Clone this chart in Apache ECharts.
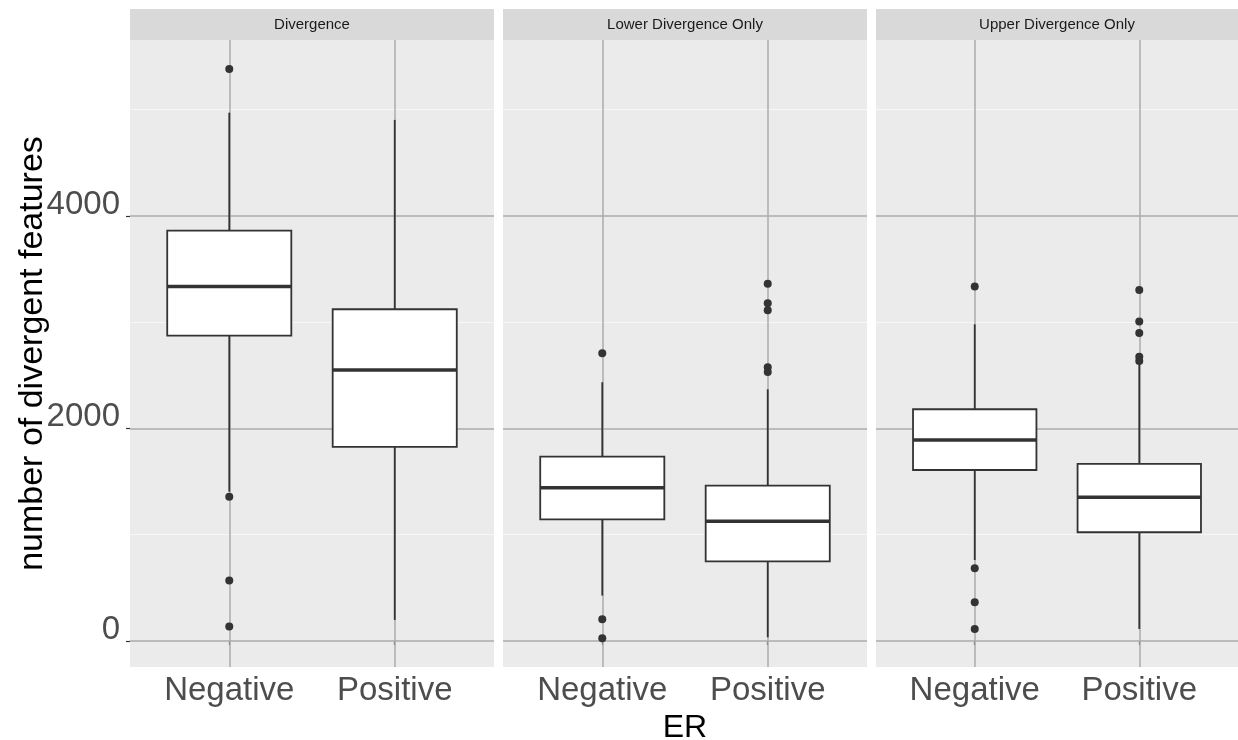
<!DOCTYPE html>
<html>
<head>
<meta charset="utf-8">
<title>number of divergent features by ER</title>
<script src="https://cdn.jsdelivr.net/npm/echarts@6/dist/echarts.min.js"></script>
<style>
  html, body { margin: 0; padding: 0; background: #fff; }
  #main { width: 1238px; height: 740px; }
</style>
</head>
<body>
<div id="main"></div>
<script>
// facet names and categories
var panels = ['Divergence', 'Lower Divergence Only', 'Upper Divergence Only'];
var erGroups = ['Negative', 'Positive'];

// box stats per ER group: [lower whisker, Q1, median, Q3, upper whisker]
var boxDivergence = [[1405, 2874, 3335, 3862, 4972], [198, 1826, 2551, 3122, 4904]];
var boxLower      = [[427, 1145, 1443, 1735, 2435], [35, 750, 1126, 1462, 2369]];
var boxUpper      = [[762, 1609, 1892, 2181, 2980], [113, 1023, 1352, 1666, 2600]];

// outliers per ER group
var outDivergence = [[5384, 1358, 568, 135], []];
var outLower      = [[2708, 204, 25], [3363, 3178, 3112, 2576, 2532]];
var outUpper      = [[3335, 684, 364, 113], [3304, 3006, 2899, 2676, 2635]];

// y axis breaks
var yMajor = [0, 2000, 4000];
var yMinor = [1000, 3000, 5000];

var boxes = [boxDivergence, boxLower, boxUpper];
var outs = [outDivergence, outLower, outUpper];

var panelLeft = [130, 503, 876];
var panelWidth = [364, 364, 362];
var panelTop = 40, panelHeight = 627;

var grids = [], xAxes = [], yAxes = [], series = [], graphics = [];

//箱线图绘制
function renderBox(params, api) {
  var x = api.value(0);
  var half = 0.375;
  var pLow = api.coord([x, api.value(1)]);
  var pQ1L = api.coord([x - half, api.value(2)]);
  var pMedL = api.coord([x - half, api.value(3)]);
  var pMedR = api.coord([x + half, api.value(3)]);
  var pQ3R = api.coord([x + half, api.value(4)]);
  var pHigh = api.coord([x, api.value(5)]);
  var pQ1 = api.coord([x, api.value(2)]);
  var pQ3 = api.coord([x, api.value(4)]);
  var stroke = '#333333';
  return {
    type: 'group',
    children: [
      { type: 'line', shape: { x1: pLow[0], y1: pLow[1], x2: pQ1[0], y2: pQ1[1] },
        style: { stroke: stroke, lineWidth: 1.8 } },
      { type: 'line', shape: { x1: pQ3[0], y1: pQ3[1], x2: pHigh[0], y2: pHigh[1] },
        style: { stroke: stroke, lineWidth: 1.8 } },
      { type: 'rect', shape: { x: pQ1L[0], y: pQ3R[1], width: pQ3R[0] - pQ1L[0], height: pQ1L[1] - pQ3R[1] },
        style: { fill: '#ffffff', stroke: stroke, lineWidth: 1.8 } },
      { type: 'line', shape: { x1: pMedL[0], y1: pMedL[1], x2: pMedR[0], y2: pMedR[1] },
        style: { stroke: stroke, lineWidth: 3.5 } }
    ]
  };
}

for (var i = 0; i < panels.length; i++) {
  grids.push({
    left: panelLeft[i], top: panelTop, width: panelWidth[i], height: panelHeight,
    show: true, backgroundColor: '#EBEBEB', borderWidth: 0,
    containLabel: false, outerBoundsMode: 'none'
  });
  xAxes.push({
    gridIndex: i, type: 'value', min: 0.4, max: 2.6,
    name: i === 1 ? 'ER' : '',
    nameLocation: 'middle', nameGap: 45, nameMoveOverlap: false,
    nameTextStyle: { fontSize: 32, color: '#000', fontFamily: 'Liberation Sans' },
    axisLine: { show: false },
    splitLine: { show: false },
    axisTick: { show: true, customValues: [1, 2], length: 4, lineStyle: { color: '#333', width: 1.2 } },
    axisLabel: {
      customValues: [1, 2], margin: 7, fontSize: 33, lineHeight: 33, color: '#4D4D4D',
      fontFamily: 'Liberation Sans',
      formatter: function (v) { return erGroups[Math.round(v) - 1]; }
    }
  });
  yAxes.push({
    gridIndex: i, type: 'value', min: -245, max: 5656,
    show: i === 0,
    name: i === 0 ? 'number of divergent features' : '',
    nameLocation: 'middle', nameRotate: 90, nameGap: 80, nameMoveOverlap: false,
    nameTextStyle: { fontSize: 34, color: '#000', fontFamily: 'Liberation Sans' },
    axisLine: { show: false },
    splitLine: { show: false },
    axisTick: { show: true, customValues: yMajor, length: 4, lineStyle: { color: '#333', width: 1.2 } },
    axisLabel: {
      customValues: yMajor, margin: 10, fontSize: 33, color: '#4D4D4D',
      fontFamily: 'Liberation Sans', verticalAlign: 'bottom', lineHeight: 23,
      formatter: function (v) { return String(v); }
    }
  });

  var boxData = boxes[i].map(function (b, k) { return [k + 1].concat(b); });
  var outData = [];
  outs[i].forEach(function (arr, k) {
    arr.forEach(function (v) { outData.push([k + 1, v]); });
  });

  var gridLines = [];
  yMinor.forEach(function (v) {
    gridLines.push({ yAxis: v, lineStyle: { color: '#F7F7F7', width: 1.2, type: 'solid' } });
  });
  yMajor.forEach(function (v) {
    gridLines.push({ yAxis: v, lineStyle: { color: '#ABABAB', width: 1.5, type: 'solid' } });
  });
  [1, 2].forEach(function (v) {
    gridLines.push({ xAxis: v, lineStyle: { color: '#ABABAB', width: 1.5, type: 'solid' } });
  });

  series.push({
    type: 'custom', xAxisIndex: i, yAxisIndex: i, z: 3,
    renderItem: renderBox,
    encode: { x: 0, y: [1, 2, 3, 4, 5] },
    data: boxData,
    silent: true
  });
  series.push({
    type: 'scatter', xAxisIndex: i, yAxisIndex: i, z: 4,
    symbolSize: 8, itemStyle: { color: '#333333', opacity: 1 },
    data: outData,
    silent: true,
    markLine: {
      silent: true, symbol: 'none', z: 1, animation: false,
      label: { show: false }, emphasis: { disabled: true },
      data: gridLines
    }
  });

  // 分面标题条
  graphics.push({
    type: 'rect', left: panelLeft[i], top: 9,
    shape: { width: panelWidth[i], height: 31 },
    style: { fill: '#D9D9D9' }
  });
  graphics.push({
    type: 'text', x: panelLeft[i] + panelWidth[i] / 2, y: 25,
    style: {
      text: panels[i], fill: '#1A1A1A', fontSize: 15, fontFamily: 'Liberation Sans',
      textAlign: 'center', textVerticalAlign: 'middle'
    }
  });
}

var myChart = echarts.init(document.getElementById('main'), null, { renderer: 'canvas' });
myChart.setOption({
  animation: false,
  backgroundColor: '#ffffff',
  grid: grids,
  xAxis: xAxes,
  yAxis: yAxes,
  graphic: graphics,
  series: series
});
</script>
</body>
</html>
